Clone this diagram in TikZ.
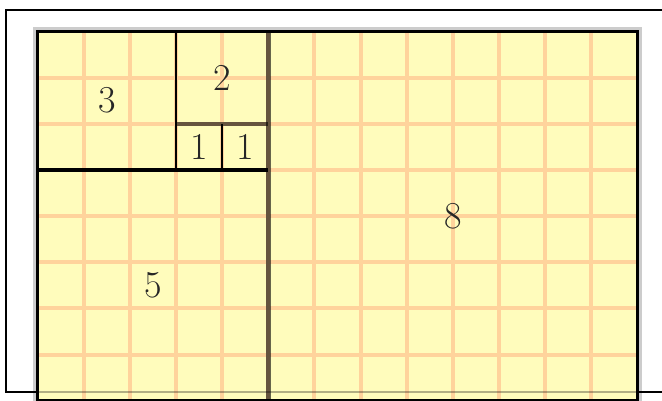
\documentclass[tikz,border=0pt]{standalone}
\usepackage{tikz}
\usetikzlibrary{positioning}
\definecolor{fibYellow}{HTML}{FFFCBC}
\definecolor{fibGrid}{HTML}{FFD39C}
\definecolor{fibShadow}{HTML}{CCCCCC}
\tikzset{
  sqline/.style={black, line width=2.6pt},
  sqolive/.style={black, opacity=0.6, line width=4.5pt},
  fibnum/.style={font=\fontsize{38}{40}\selectfont, text=black!85, inner sep=0pt},
}
\begin{document}
\begin{tikzpicture}[x=1pt,y=-1pt]
\useasboundingbox (0,0) rectangle (662,400);
\def\u{46.15}\def\ox{37.5}\def\oy{31.5}
% shadow and outer frame
\fill[fibShadow] (\ox-4.5,\oy-4.5) rectangle (\ox+13*\u+4.5,410);
\draw[line width=2.2pt] (680,10) -- (6,10) -- (6,392) -- (\ox,392);
\draw[line width=2.2pt] (\ox+13*\u,392) -- (680,392);
% paper
\fill[fibYellow] (\ox,\oy) rectangle (\ox+13*\u,\oy+8*\u);
\foreach \i in {1,...,12}{
  \draw[fibGrid, line width=4pt] (\ox+\i*\u,\oy) -- (\ox+\i*\u,\oy+8*\u);
}
\foreach \j in {1,...,7}{
  \draw[fibGrid, line width=4pt] (\ox,\oy+\j*\u) -- (\ox+13*\u,\oy+\j*\u);
}
\draw[line width=2.2pt, opacity=0.3] (\ox,392) -- (\ox+13*\u,392);
% squares
\draw[sqolive] (\ox+5*\u,\oy) -- (\ox+5*\u,\oy+8*\u);
\draw[sqline] (\ox+3*\u,\oy) -- (\ox+3*\u,\oy+3*\u);
\draw[sqline, line width=3.4pt] (\ox,\oy+3*\u) -- (\ox+5*\u,\oy+3*\u);
\draw[sqolive, line width=4pt] (\ox+3*\u,\oy+2*\u) -- (\ox+5*\u,\oy+2*\u);
\draw[sqline] (\ox+4*\u,\oy+2*\u) -- (\ox+4*\u,\oy+3*\u);
\draw[black, line width=3pt] (\ox,\oy) rectangle (\ox+13*\u,\oy+8*\u);
% labels
\node[fibnum] (n3) at (\ox+1.5*\u,\oy+1.5*\u) {3};
\node[fibnum] (n2) at (\ox+4*\u,\oy+\u) {2};
\node[fibnum] (n1a) at (\ox+3.5*\u,\oy+2.5*\u) {1};
\node[fibnum] (n1b) at (\ox+4.5*\u,\oy+2.5*\u) {1};
\node[fibnum] (n5) at (\ox+2.5*\u,\oy+5.5*\u) {5};
\node[fibnum] (n8) at (\ox+9*\u,\oy+4*\u) {8};
\end{tikzpicture}
\end{document}
